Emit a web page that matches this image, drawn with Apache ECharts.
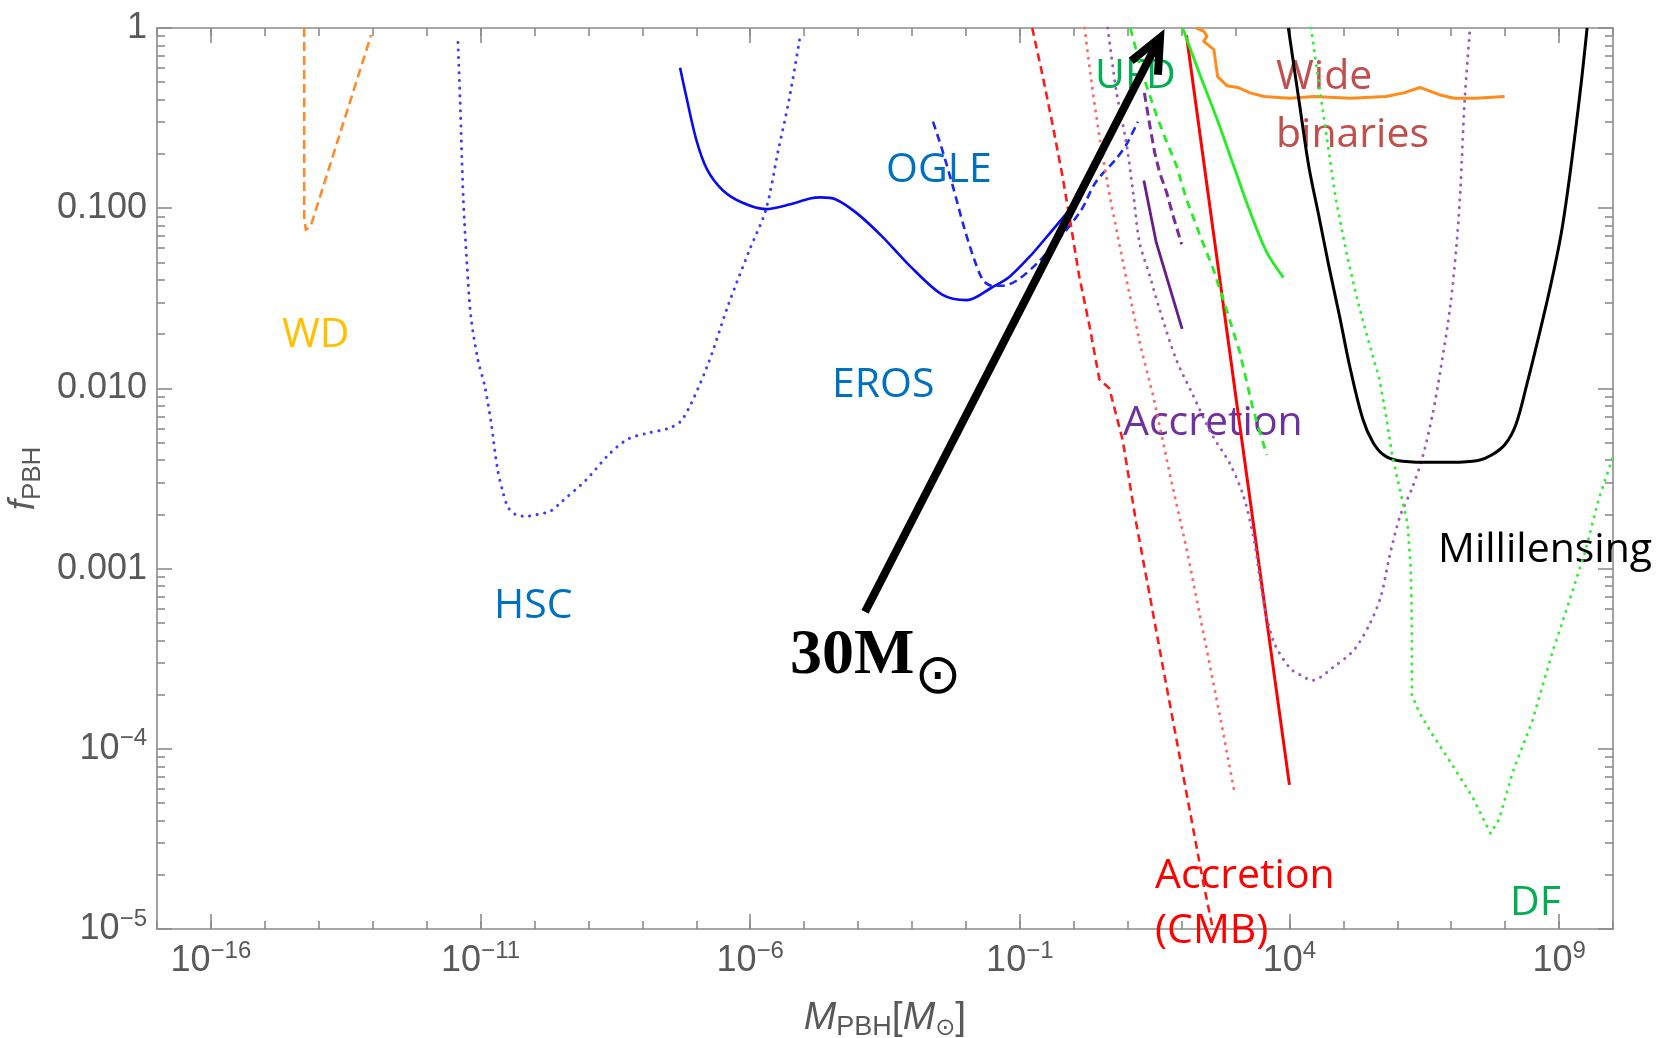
<!DOCTYPE html>
<html>
<head>
<meta charset="utf-8">
<script src="https://cdn.jsdelivr.net/npm/echarts@6.0.0/dist/echarts.min.js"></script>
<style>
  html, body { margin: 0; padding: 0; background: #ffffff; }
  #chart { width: 1662px; height: 1038px; }
</style>
</head>
<body>
<div id="chart"></div>
<script>
// Constraint curves on f_PBH versus PBH mass.
// Every point is a pair [log10(M_PBH / M_sun), log10(f_PBH)].

const wdLimit = [[-14.27, 0], [-14.27, -1.05], [-14.24, -1.12], [-14.15, -1.10], [-13.03, -0.04]];

const hscLimit = [[-11.42, -0.08], [-11.38, -0.40], [-11.32, -0.95], [-11.25, -1.32], [-11.18, -1.60],
  [-11.05, -1.84], [-10.92, -1.99], [-10.80, -2.20], [-10.69, -2.44], [-10.59, -2.57], [-10.49, -2.66],
  [-10.35, -2.70], [-10.15, -2.71], [-9.95, -2.70], [-9.70, -2.68], [-9.50, -2.63], [-9.05, -2.51],
  [-8.60, -2.36], [-8.26, -2.28], [-7.93, -2.25], [-7.50, -2.22], [-7.25, -2.17], [-6.80, -1.88],
  [-6.41, -1.54], [-6.01, -1.23], [-5.71, -1.01], [-5.48, -0.68], [-5.28, -0.40], [-5.07, -0.04]];

const erosLimit = [[-7.30, -0.22], [-7.20, -0.36], [-7.00, -0.62], [-6.80, -0.785], [-6.51, -0.90],
  [-6.14, -0.97], [-5.71, -1.005], [-5.28, -0.98], [-4.89, -0.946], [-4.69, -0.94], [-4.42, -0.95],
  [-4.03, -1.026], [-3.56, -1.155], [-3.04, -1.32], [-2.44, -1.48], [-1.98, -1.51], [-1.52, -1.44],
  [-1.19, -1.38], [-0.79, -1.26], [-0.39, -1.12], [-0.05, -1.0]];

const ogleLimit = [[-2.61, -0.52], [-2.44, -0.675], [-2.24, -0.88], [-2.04, -1.10], [-1.85, -1.28],
  [-1.68, -1.40], [-1.52, -1.43], [-1.32, -1.43], [-1.05, -1.40], [-0.66, -1.30], [-0.19, -1.14],
  [0.14, -1.01], [0.41, -0.855], [0.79, -0.725], [0.97, -0.65], [1.19, -0.52]];

const cmbDashed = [[-0.77, 0], [-0.58, -0.26], [-0.39, -0.54], [-0.21, -0.82], [-0.05, -1.10],
  [0.10, -1.375], [0.29, -1.65], [0.476, -1.95], [0.66, -2.0], [0.91, -2.29], [1.16, -2.75],
  [1.41, -3.15], [1.65, -3.54], [1.90, -3.94], [2.15, -4.34], [2.40, -4.74], [2.58, -5.0]];

const cmbDotted = [[0.20, 0], [0.35, -0.35], [0.50, -0.65], [0.68, -0.95], [0.86, -1.22], [1.05, -1.50],
  [1.25, -1.78], [1.48, -2.05], [1.80, -2.50], [2.10, -2.90], [2.40, -3.35], [2.70, -3.80], [2.98, -4.24]];

const cmbSolid = [[2.09, -0.04], [3.04, -2.12], [4.00, -4.20]];

const accretionDotted = [[0.63, 0], [0.79, -0.35], [0.97, -0.63], [1.10, -0.91], [1.22, -1.19],
  [1.41, -1.375], [1.59, -1.56], [1.90, -1.84], [2.20, -2.03], [2.55, -2.25], [2.90, -2.42],
  [3.15, -2.60], [3.35, -2.85], [3.50, -3.15], [3.70, -3.40], [4.00, -3.55], [4.20, -3.59],
  [4.43, -3.62], [4.80, -3.55], [5.20, -3.45], [5.50, -3.30], [5.70, -3.15], [5.85, -2.94],
  [6.05, -2.71], [6.28, -2.55], [6.47, -2.38], [6.65, -2.15], [6.80, -1.90], [6.98, -1.55],
  [7.10, -1.20], [7.17, -0.90], [7.25, -0.40], [7.35, 0]];

const accretionDashed = [[1.31, -0.36], [1.41, -0.54], [1.50, -0.69], [1.59, -0.80], [1.72, -0.91],
  [1.84, -1.04], [2.00, -1.20]];

const accretionSolid = [[1.30, -0.846], [1.53, -1.19], [2.01, -1.67]];

const ufdSolid = [[2.02, 0], [2.34, -0.26], [2.65, -0.50], [2.96, -0.76], [3.27, -1.02], [3.58, -1.245],
  [3.89, -1.385]];

const ufdDashed = [[1.05, 0], [1.28, -0.26], [1.53, -0.48], [1.72, -0.63], [1.90, -0.76], [2.09, -0.95],
  [2.34, -1.15], [2.59, -1.34], [2.83, -1.56], [3.08, -1.80], [3.33, -2.12], [3.58, -2.37]];

const wideBinaries = [[2.27, 0], [2.41, -0.018], [2.47, -0.046], [2.41, -0.074], [2.60, -0.12],
  [2.64, -0.21], [2.67, -0.27], [2.84, -0.32], [3.04, -0.33], [3.27, -0.36], [3.53, -0.38], [4.00, -0.39],
  [4.46, -0.38], [5.12, -0.39], [5.79, -0.38], [6.12, -0.36], [6.42, -0.33], [6.78, -0.37], [7.05, -0.39],
  [7.45, -0.39], [7.99, -0.38]];

const millilensing = [[3.98, 0], [4.20, -0.45], [4.36, -0.77], [4.55, -1.05], [4.73, -1.32], [4.93, -1.60],
  [5.12, -1.88], [5.36, -2.17], [5.55, -2.30], [5.75, -2.37], [6.00, -2.40], [6.50, -2.41], [7.00, -2.41],
  [7.50, -2.40], [7.75, -2.37], [8.00, -2.31], [8.20, -2.20], [8.40, -1.98], [8.64, -1.69], [8.85, -1.42],
  [9.04, -1.14], [9.18, -0.86], [9.30, -0.58], [9.42, -0.28], [9.52, 0]];

const dfLimit = [[4.40, 0], [4.59, -0.40], [4.86, -0.95], [5.06, -1.25], [5.26, -1.51], [5.45, -1.72],
  [5.67, -1.95], [5.79, -2.15], [5.91, -2.38], [6.04, -2.55], [6.19, -2.75], [6.25, -3.00], [6.27, -3.34],
  [6.27, -3.70], [6.41, -3.80], [6.65, -3.92], [7.02, -4.09], [7.40, -4.27], [7.73, -4.47], [7.89, -4.39],
  [8.14, -4.13], [8.51, -3.84], [8.88, -3.46], [9.19, -3.18], [9.49, -2.90], [9.74, -2.61], [10.0, -2.38]];

// Arrow pointing at the 30 solar-mass window: tail, tip
const arrow30 = [[-3.87, -3.24], [1.60, -0.054]];

// Axis ticks
const xLabelledDecades = [-16, -11, -6, -1, 4, 9];
const yDecadeText = { '0': '1', '-1': '0.100', '-2': '0.010', '-3': '0.001' };
const minorMantissas = [2, 3, 4, 5, 6, 7, 8, 9];
const yMinorDecades = [-5, -4, -3, -2, -1];

const AXIS_GREY = '#8c8c8c';
const TICK_TEXT = '#595959';
const TICK_FONT = '"Liberation Sans", Arial, sans-serif';
const LABEL_FONT = '"Open Sans", "Noto Sans", sans-serif';

const yMinorTicks = [];
yMinorDecades.forEach(k => minorMantissas.forEach(m => yMinorTicks.push(k + Math.log10(m))));

const toMassFraction = pts => pts.map(p => [Math.pow(10, p[0]), Math.pow(10, p[1])]);

const DOTTED = [0.1, 7.5];
function curve(name, pts, color, width, dash, smooth) {
  return {
    type: 'line', name, data: toMassFraction(pts),
    xAxisIndex: 0, yAxisIndex: 0,
    symbol: 'none', showSymbol: false, silent: true, smooth: smooth || false, z: 3,
    lineStyle: { color, width, type: dash || 'solid', cap: dash === DOTTED ? 'round' : 'butt', join: 'round' }
  };
}

const frameLine = { show: true, onZero: false, lineStyle: { color: AXIS_GREY, width: 1.6 } };
const hiddenLine = { show: false, onZero: false };
const tickLine = { color: AXIS_GREY, width: 1.6 };

function tickAxis(extra) {
  return Object.assign({
    type: 'value', splitLine: { show: false }, axisLabel: { show: false }, silent: true
  }, extra);
}

const powerRich = {
  b: { fontSize: 36, lineHeight: 44, fontFamily: TICK_FONT, color: TICK_TEXT },
  s: { fontSize: 24, lineHeight: 24, verticalAlign: 'top', fontFamily: TICK_FONT, color: TICK_TEXT }
};

function label(text, x, y, color) {
  return { type: 'text', x, y, z: 1,
    style: { text, fill: color, font: '41px ' + LABEL_FONT, align: 'left', verticalAlign: 'middle' } };
}

const chart = echarts.init(document.getElementById('chart'), null, { renderer: 'canvas' });

const option = {
  backgroundColor: '#ffffff',
  animation: false,
  grid: { left: 157, right: 49, top: 28, bottom: 109, containLabel: false, outerBoundsMode: 'none' },
  xAxis: [
    { type: 'log', logBase: 10, min: 1e-17, max: 1e10, show: false },
    tickAxis({ min: -17, max: 10, interval: 1, position: 'bottom', axisLine: frameLine,
      axisTick: { show: true, inside: true, length: 8, lineStyle: tickLine } }),
    tickAxis({ min: -17, max: 10, position: 'bottom', axisLine: hiddenLine,
      axisTick: { show: true, inside: true, length: 15, customValues: xLabelledDecades, lineStyle: tickLine },
      axisLabel: {
        show: true, customValues: xLabelledDecades, margin: 10,
        fontSize: 36, fontFamily: TICK_FONT, color: TICK_TEXT,
        formatter: v => v < 0 ? '{b|10}{s|\u2212' + (-v) + '}' : '{b|10}{s|' + v + '}',
        rich: powerRich
      },
      name: '{i|M}{sub|PBH}{n|[}{i|M}{sun|\u2299}{n|]}',
      nameLocation: 'middle', nameGap: 66,
      nameTextStyle: {
        color: TICK_TEXT, fontFamily: TICK_FONT, fontSize: 38,
        rich: {
          i: { fontSize: 39, lineHeight: 46, fontStyle: 'italic', fontFamily: TICK_FONT, color: TICK_TEXT },
          n: { fontSize: 39, lineHeight: 46, fontFamily: TICK_FONT, color: TICK_TEXT },
          sub: { fontSize: 27, lineHeight: 27, verticalAlign: 'bottom', fontFamily: TICK_FONT, color: TICK_TEXT },
          sun: { fontSize: 24, lineHeight: 24, verticalAlign: 'bottom', fontFamily: '"DejaVu Sans"', color: TICK_TEXT }
        }
      }
    }),
    tickAxis({ min: -17, max: 10, interval: 1, position: 'top', axisLine: frameLine,
      axisTick: { show: true, inside: true, length: 8, lineStyle: tickLine } }),
    tickAxis({ min: -17, max: 10, position: 'top', axisLine: hiddenLine,
      axisTick: { show: true, inside: true, length: 15, customValues: xLabelledDecades, lineStyle: tickLine } })
  ],
  yAxis: [
    { type: 'log', logBase: 10, min: 1e-5, max: 1, show: false },
    tickAxis({ min: -5, max: 0, interval: 1, position: 'left', axisLine: frameLine,
      axisTick: { show: true, inside: true, length: 15, lineStyle: tickLine },
      axisLabel: {
        show: true, margin: 10, fontSize: 36, fontFamily: TICK_FONT, color: TICK_TEXT,
        formatter: v => {
          const key = String(Math.round(v));
          return yDecadeText[key] !== undefined ? yDecadeText[key] : '{b|10}{s|\u2212' + (-Math.round(v)) + '}';
        },
        rich: powerRich
      },
      name: '{i|f}{sub|PBH}',
      nameLocation: 'middle', nameGap: 104, nameRotate: 90,
      nameTextStyle: {
        color: TICK_TEXT, fontFamily: TICK_FONT, fontSize: 36,
        rich: {
          i: { fontSize: 37, lineHeight: 44, fontStyle: 'italic', fontFamily: TICK_FONT, color: TICK_TEXT },
          sub: { fontSize: 26, lineHeight: 26, verticalAlign: 'bottom', fontFamily: TICK_FONT, color: TICK_TEXT }
        }
      }
    }),
    tickAxis({ min: -5, max: 0, position: 'left', axisLine: hiddenLine,
      axisTick: { show: true, inside: true, length: 8, customValues: yMinorTicks, lineStyle: tickLine } }),
    tickAxis({ min: -5, max: 0, interval: 1, position: 'right', axisLine: frameLine,
      axisTick: { show: true, inside: true, length: 15, lineStyle: tickLine } }),
    tickAxis({ min: -5, max: 0, position: 'right', axisLine: hiddenLine,
      axisTick: { show: true, inside: true, length: 8, customValues: yMinorTicks, lineStyle: tickLine } })
  ],
  series: [
    curve('WD', wdLimit, '#ff8a2a', 2.6, [9, 5]),
    curve('HSC', hscLimit, '#3c3cff', 3, DOTTED, 0.3),
    curve('EROS', erosLimit, '#0a0af0', 2.6, 'solid', 0.3),
    curve('OGLE', ogleLimit, '#1a28f0', 2.6, [8, 5], 0.3),
    curve('Accretion (CMB) dashed', cmbDashed, '#ff1a1a', 2.6, [8, 5]),
    curve('Accretion (CMB) dotted', cmbDotted, '#ff6a6a', 3, DOTTED),
    curve('Accretion (CMB) solid', cmbSolid, '#ff0000', 3),
    curve('Accretion dotted', accretionDotted, '#9c58c0', 3, DOTTED, 0.3),
    curve('Accretion dashed', accretionDashed, '#7a2a9a', 3, [9, 5]),
    curve('Accretion solid', accretionSolid, '#6a1a8a', 2.8),
    curve('UFD solid', ufdSolid, '#22ee22', 2.8, 'solid', 0.3),
    curve('UFD dashed', ufdDashed, '#22ee22', 2.8, [8, 6]),
    curve('Wide binaries', wideBinaries, '#ff8c1a', 3),
    curve('Millilensing', millilensing, '#000000', 3, 'solid', 0.35),
    curve('DF', dfLimit, '#33ee33', 3, DOTTED),
    {
      type: 'custom', name: '30 Msun arrow', xAxisIndex: 0, yAxisIndex: 0, silent: true, z: 10,
      data: [[Math.pow(10, arrow30[0][0]), Math.pow(10, arrow30[0][1]),
              Math.pow(10, arrow30[1][0]), Math.pow(10, arrow30[1][1])]],
      encode: { x: [0, 2], y: [1, 3] },
      renderItem: (params, api) => {
        const tail = api.coord([api.value(0), api.value(1)]);
        const tip = api.coord([api.value(2), api.value(3)]);
        const dx = tail[0] - tip[0], dy = tail[1] - tip[1];
        const len = Math.hypot(dx, dy);
        const ux = dx / len, uy = dy / len;
        const wing = 37, ang = 24 * Math.PI / 180;
        const rot = a => [tip[0] + wing * (ux * Math.cos(a) - uy * Math.sin(a)),
                          tip[1] + wing * (ux * Math.sin(a) + uy * Math.cos(a))];
        const stroke = { stroke: '#000000', lineWidth: 8, fill: null, lineJoin: 'miter', lineCap: 'butt' };
        return {
          type: 'group',
          children: [
            { type: 'line', shape: { x1: tail[0], y1: tail[1], x2: tip[0] + ux * 3, y2: tip[1] + uy * 3 }, style: stroke },
            { type: 'polyline', shape: { points: [rot(ang), tip, rot(-ang)] }, style: stroke }
          ]
        };
      }
    }
  ],
  graphic: [
    label('WD', 282, 335, '#ffc000'),
    label('HSC', 494, 606, '#0070c0'),
    label('EROS', 832, 385, '#0070c0'),
    label('OGLE', 886, 170, '#0070c0'),
    label('UFD', 1095, 76, '#00b050'),
    label('Wide', 1276, 77, '#c0504d'),
    label('binaries', 1276, 135, '#c0504d'),
    label('Accretion', 1123, 423, '#7030a0'),
    label('Millilensing', 1438, 550, '#000000'),
    label('Accretion', 1155, 876, '#ff0000'),
    label('(CMB)', 1155, 931, '#ff0000'),
    label('DF', 1510, 903, '#00b050'),
    { type: 'text', x: 790, y: 656, z: 11, style: { text: '30M', fill: '#000000', font: 'bold 64px "Liberation Serif", "DejaVu Serif", serif', align: 'left', verticalAlign: 'middle' } },
    { type: 'text', x: 938, y: 678, z: 11, style: { text: '\u2299', fill: '#000000', font: '56px "DejaVu Sans", sans-serif', align: 'center', verticalAlign: 'middle' } }
  ]
};

chart.setOption(option);
</script>
</body>
</html>
